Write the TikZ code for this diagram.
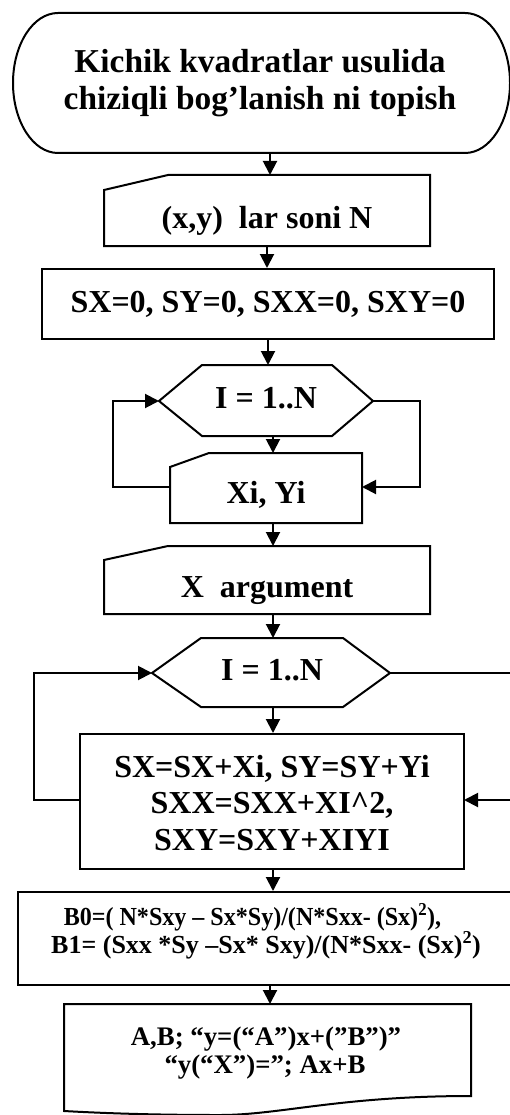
\documentclass[tikz,border=0pt]{standalone}
\usepackage{fontspec}
\setmainfont{Liberation Serif}
\usetikzlibrary{arrows.meta}
\begin{document}
\begin{tikzpicture}[x=1pt,y=1pt,
  outline/.style={draw, line width=2pt, line join=miter},
  rectbox/.style={draw, line width=2pt, inner sep=0pt},
  conn/.style={line width=2pt, -{Triangle[length=14pt,width=14pt]}},
  txt/.style={font=\bfseries\fontsize{32}{36}\selectfont, inner sep=0pt, anchor=base},
  small/.style={txt, font=\bfseries\fontsize{26}{28}\selectfont},
  docfont/.style={txt, font=\bfseries\fontsize{26.8}{28}\selectfont}]
\useasboundingbox (0,0) rectangle (509,-1115);

% start terminator
\draw[outline] (58,-13) -- (465,-13) arc[start angle=90,end angle=-90,x radius=45,y radius=70]
  -- (58,-153) arc[start angle=270,end angle=90,x radius=45,y radius=70] -- cycle;
\node[txt, font=\bfseries\fontsize{33.4}{37}\selectfont] (title1) at (260,-73) {Kichik kvadratlar usulida};
\node[txt, font=\bfseries\fontsize{33.4}{37}\selectfont] (title2) at (260,-110) {chiziqli bog’lanish ni topish};
\coordinate (titleB) at (270,-153);

% input N
\draw[outline] (104,-190) -- (168,-175) -- (430,-175) -- (430,-246) -- (104,-246) -- cycle;
\node[txt] (inN) at (267,-229) {(x,y)~ lar soni N};
\coordinate (inNT) at (270,-175);
\coordinate (inNB) at (267,-246);

% init
\node[rectbox, minimum width=452pt, minimum height=70pt] (init) at (268,-304) {};
\node[txt] (initT) at (268,-312) {SX=0, SY=0, SXX=0, SXY=0};

% loop 1
\draw[outline] (159,-401) -- (202,-365) -- (332,-365) -- (373,-401) -- (332,-436) -- (202,-436) -- cycle;
\node[txt] (loopA) at (266,-408) {I = 1..N};
\coordinate (hAT) at (268,-365);
\coordinate (hAB) at (273,-436);
\coordinate (hAL) at (159,-401);
\coordinate (hAR) at (373,-401);

% input Xi Yi
\draw[outline] (170,-467) -- (209,-453) -- (362,-453) -- (362,-523) -- (170,-523) -- cycle;
\node[txt] (xi) at (266,-503) {Xi, Yi};
\coordinate (xiT) at (273,-453);
\coordinate (xiB) at (273,-523);
\coordinate (xiL) at (170,-487);
\coordinate (xiR) at (362,-487);

% input X
\draw[outline] (104,-560) -- (168,-546) -- (430,-546) -- (430,-614) -- (104,-614) -- cycle;
\node[txt] (argX) at (267,-597) {X~ argument};
\coordinate (aT) at (273,-546);
\coordinate (aB) at (273,-614);

% loop 2
\draw[outline] (152,-673) -- (201,-638) -- (343,-638) -- (390,-673) -- (343,-707) -- (201,-707) -- cycle;
\node[txt] (loopB) at (272,-680) {I = 1..N};
\coordinate (hBT) at (273,-638);
\coordinate (hBB) at (273,-707);
\coordinate (hBL) at (152,-673);
\coordinate (hBR) at (390,-673);

% sums
\node[rectbox, minimum width=384pt, minimum height=135pt] (sums) at (272,-801.5) {};
\node[txt] (sums1) at (272,-777) {SX=SX+Xi, SY=SY+Yi};
\node[txt] (sums2) at (272,-813) {SXX=SXX+XI\textasciicircum 2,};
\node[txt] (sums3) at (272,-850) {SXY=SXY+XIYI};
\coordinate (sL) at (80,-800);
\coordinate (sR) at (464,-800);

% coefficients
\node[rectbox, minimum width=500pt, minimum height=93pt] (coef) at (268,-938.5) {};
\node[small] (coef1) at (252.5,-925) {\scalebox{0.925}[1]{B0=( N*Sxy – Sx*Sy)/(N*Sxx- (Sx)\textsuperscript{2}),}};
\node[small] (coef2) at (266,-953) {B1= (Sxx *Sy –Sx* Sxy)/(N*Sxx- (Sx)\textsuperscript{2})};

% output document
\draw[outline] (64,-1004) -- (471,-1004) -- (471,-1096)
  .. controls (340,-1096) and (280,-1115) .. (220,-1115)
  .. controls (150,-1115) and (100,-1113) .. (64,-1111) -- cycle;
\node[docfont] (out1) at (266,-1045) {A,B; “y=(“A”)x+(”B”)”};
\node[docfont] (out2) at (265,-1073) {“y(“X”)=”; Ax+B};
\coordinate (dT) at (270,-1004);

% connectors
\draw[conn] (titleB) -- (inNT);
\draw[conn] (inNB) -- (init.north -| inNB);
\draw[conn] (init.south -| hAT) -- (hAT);
\draw[conn] (hAB) -- (xiT);
\draw[conn] (xiB) -- (aT);
\draw[conn] (aB) -- (hBT);
\draw[conn] (hBB) -- (sums.north -| hBB);
\draw[conn] (sums.south -| hBB) -- (coef.north -| hBB);
\draw[conn] (coef.south -| dT) -- (dT);

% loop connectors
\draw[conn] (xiL) -- ++(-57,0) |- (hAL);
\draw[conn] (hAR) -- ++(47,0) |- (xiR);
\draw[conn] (sL) -- ++(-46,0) |- (hBL);
\draw[conn] (hBR) -- ++(123,0) |- (sR);
\end{tikzpicture}
\end{document}
